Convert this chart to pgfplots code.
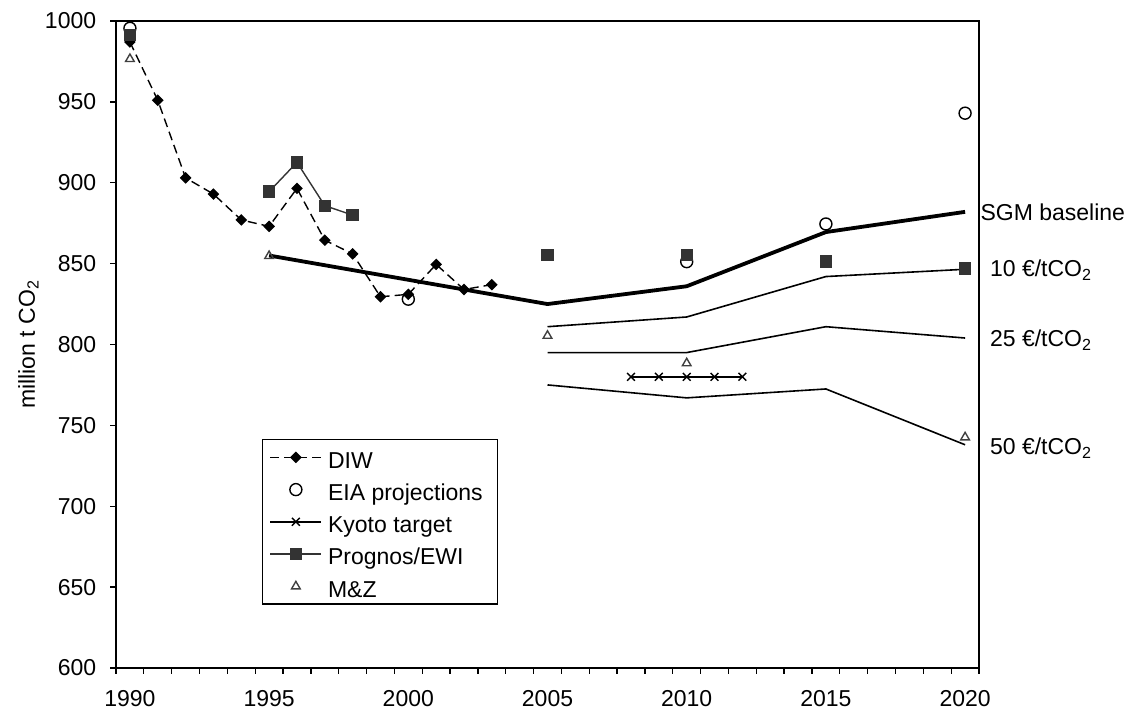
\documentclass[border=0pt]{standalone}
\usepackage{pgfplots}
\pgfplotsset{compat=1.18}
\usepackage{pgfplotstable}
\usepackage{fontspec}
\setmainfont{Liberation Sans}

\definecolor{progcol}{HTML}{333333}
\definecolor{mzcol}{HTML}{404040}

\newcommand{\chartfont}{\fontsize{23bp}{27bp}\selectfont}

% legend sample: a short line with the mark in its middle
\pgfplotsset{lgimg/.style={legend image code/.code={%
  \draw[mark repeat=2,mark phase=2,##1] plot coordinates {(0bp,0bp) (25.5bp,0bp) (51bp,0bp)};}}}

% emissions, million t CO2
\pgfplotstableread{
year val
1990 987
1991 951
1992 903
1993 893
1994 877
1995 873
1996 896.5
1997 864.5
1998 856
1999 829.5
2000 831
2001 849.5
2002 834
2003 837
}\diw

\pgfplotstableread{
year val
1990 995.5
2000 828
2010 851.2
2015 874.5
2020 943
}\eia

\pgfplotstableread{
year val
2008 780
2009 780
2010 780
2011 780
2012 780
}\kyoto

\pgfplotstableread{
year val
1990 991.3
1991 nan
1995 894.5
1996 912.6
1997 885.8
1998 880
1999 nan
2005 855.3
2006 nan
2010 855.3
2011 nan
2015 851.2
2016 nan
2020 847
}\prognos

\pgfplotstableread{
year val
1990 976.5
1995 854.7
2005 805.4
2010 788.4
2020 742.6
}\mz

\pgfplotstableread{
year base p10 p25 p50
1995 855 nan nan nan
2005 825 811 795 775
2010 836 817 795 767
2015 869.5 842 811 772.5
2020 882 846.5 804 738
}\sgm

\begin{document}
\chartfont
\begin{tikzpicture}[x=1bp,y=1bp]
\useasboundingbox (0,0) rectangle (1135,711);
\begin{axis}[
  at={(116bp,43bp)}, anchor=south west,
  scale only axis, width=863bp, height=647bp,
  xmin=1989.5, xmax=2020.5, ymin=600, ymax=1000,
  clip=false,
  unbounded coords=jump,
  axis line style={line width=1.3bp},
  tick style={line width=1.3bp, black},
  tick align=outside, tick pos=left,
  major tick length=6bp,
  xtick={1989.5,1990.5,...,2020.5},
  xticklabel=\empty,
  extra x ticks={1990,1995,2000,2005,2010,2015,2020},
  extra x tick labels={1990,1995,2000,2005,2010,2015,2020},
  extra x tick style={major tick length=0pt, xticklabel style={inner sep=0pt, yshift=-22bp}},
  ytick={600,650,...,1000},
  yticklabel style={xshift=-6bp},
  /pgf/number format/1000 sep={},
  /pgf/number format/assume math mode=true,
  tick label style={font=\chartfont},
  ylabel={million t CO\textsubscript{2}},
  ylabel style={font=\chartfont, at={(axis description cs:-0.094,0.5)}, anchor=base},
  legend style={
    at={(axis description cs:0.1692,0.354)}, anchor=north west,
    draw=black, line width=1.3bp, font=\chartfont,
    inner xsep=7bp, inner ysep=3bp,
    row sep=2.75bp, column sep=6bp,
    nodes={inner sep=0pt, text height=25.5bp, text depth=4bp, anchor=west},
  },
  legend cell align=left,
  lgimg,
]
% DIW series
\addplot[black, line width=1.4bp, dash pattern=on 9bp off 5bp,
  mark=square*, mark size=3.4bp, mark options={solid, rotate=45, fill=black}]
  table[x=year,y=val]{\diw};
\addlegendentry{DIW}
% EIA projections
\addplot[only marks, black, mark=o, mark size=6bp, mark options={line width=1.4bp}, lgimg]
  table[x=year,y=val]{\eia};
\addlegendentry{EIA projections\hspace*{8bp}}
% Kyoto target
\addplot[black, line width=1.4bp, mark=x, mark size=5.5bp, mark options={line width=1.4bp}]
  table[x=year,y=val]{\kyoto};
\addlegendentry{Kyoto target}
% Prognos/EWI
\addplot[progcol, line width=1.4bp, mark=square*, mark size=5.5bp,
  mark options={fill=progcol, draw=progcol}]
  table[x=year,y=val]{\prognos};
\addlegendentry{Prognos/EWI}
% M&Z
\addplot[only marks, mzcol, mark=triangle, mark size=5bp, mark options={line width=1.4bp}, lgimg]
  table[x=year,y=val]{\mz};
\addlegendentry{M\&Z}
% SGM baseline and carbon price scenarios
\addplot[forget plot, black, line width=3.8bp, line join=round] table[x=year,y=base]{\sgm};
\addplot[forget plot, black, line width=1.6bp] table[x=year,y=p10]{\sgm};
\addplot[forget plot, black, line width=1.6bp] table[x=year,y=p25]{\sgm};
\addplot[forget plot, black, line width=1.6bp] table[x=year,y=p50]{\sgm};
% scenario labels to the right of the plot
\node[anchor=base west, inner sep=0pt, font=\chartfont] at (axis cs:2020.55,876.4) {SGM baseline};
\node[anchor=base west, inner sep=0pt, font=\chartfont] at (axis cs:2020.89,841.9) {10 €/tCO\textsubscript{2}};
\node[anchor=base west, inner sep=0pt, font=\chartfont] at (axis cs:2020.89,798.6) {25 €/tCO\textsubscript{2}};
\node[anchor=base west, inner sep=0pt, font=\chartfont] at (axis cs:2020.89,731.7) {50 €/tCO\textsubscript{2}};
\end{axis}
\end{tikzpicture}
\end{document}
